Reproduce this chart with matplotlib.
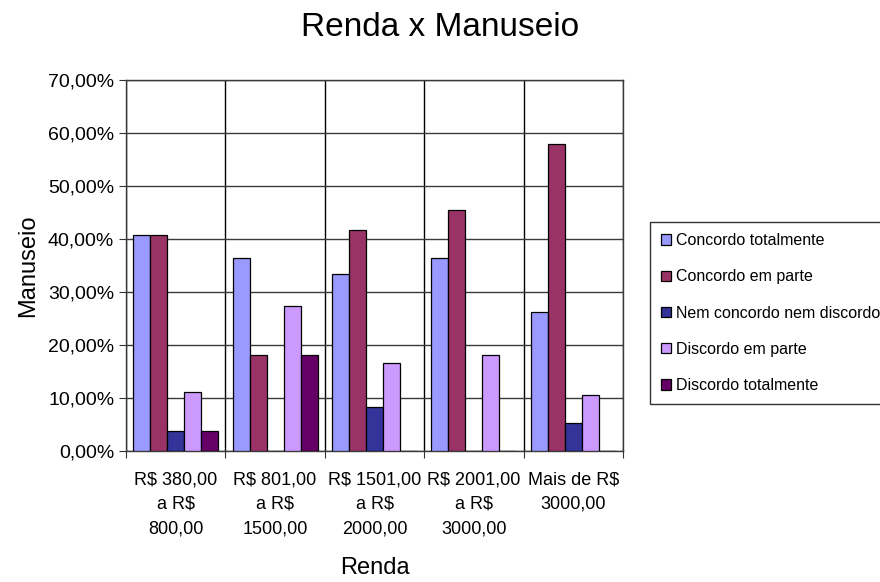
import matplotlib.pyplot as plt
import numpy as np
from matplotlib.ticker import FuncFormatter

plt.rcParams['font.family'] = ['Liberation Sans', 'DejaVu Sans']

# faixas de renda
categorias = ['R$ 380,00\na R$\n800,00', 'R$ 801,00\na R$\n1500,00',
              'R$ 1501,00\na R$\n2000,00', 'R$ 2001,00\na R$\n3000,00',
              'Mais de R$\n3000,00']

series = ['Concordo totalmente', 'Concordo em parte', 'Nem concordo nem discordo',
          'Discordo em parte', 'Discordo totalmente']

# valores (fracao)
concordo_total = [0.4074, 0.3636, 0.3333, 0.3636, 0.2632]
concordo_parte = [0.4074, 0.1818, 0.4167, 0.4545, 0.5789]
nem_nem = [0.0370, 0.0, 0.0833, 0.0, 0.0526]
discordo_parte = [0.1111, 0.2727, 0.1667, 0.1818, 0.1053]
discordo_total = [0.0370, 0.1818, 0.0, 0.0, 0.0]

cores = ['#9999FF', '#993366', '#333399', '#CC99FF', '#660066']

valores = [concordo_total, concordo_parte, nem_nem, discordo_parte, discordo_total]

fig = plt.figure(figsize=(8.8, 5.82), dpi=100)
ax = fig.add_axes([126/880, 1-451/582, (623-126)/880, (451-80)/582])

x = np.arange(len(categorias))
w = 0.171
for j, (v, c, nome) in enumerate(zip(valores, cores, series)):
    ax.bar(x + (j-2)*w, v, w, color=c, edgecolor='black', linewidth=0.9,
           label=nome, zorder=3)

ax.set_xlim(-0.5, len(categorias)-0.5)
ax.set_ylim(0, 0.7)
ax.set_yticks(np.arange(0, 0.71, 0.1))
ax.yaxis.set_major_formatter(FuncFormatter(lambda v, p: ('%.2f%%' % (v*100)).replace('.', ',')))

# marcas nas divisoes, rotulos no centro
ax.set_xticks(np.arange(-0.5, len(categorias)), minor=False)
ax.set_xticklabels([])
ax.set_xticks(x, minor=True)
ax.set_xticklabels(categorias, minor=True, fontsize=13, linespacing=1.55)
ax.tick_params(axis='x', which='minor', length=0, pad=15)
ax.tick_params(axis='x', which='major', length=5, direction='out', color='#333')
ax.tick_params(axis='y', length=5, direction='out', labelsize=14, color='#333')

ax.grid(axis='y', color='#3a3a3a', linewidth=1, zorder=0)
ax.grid(axis='x', which='major', color='black', linewidth=1, zorder=0)
ax.set_axisbelow(True)
for s in ax.spines.values():
    s.set_color('#3a3a3a')
    s.set_linewidth(1)

ax.set_xlabel('Renda', fontsize=17, labelpad=14)
ax.set_ylabel('Manuseio', fontsize=17, labelpad=6)
fig.text(440/880, 1-28/582, 'Renda x Manuseio', fontsize=24, ha='center', va='center')

leg = ax.legend(loc='upper left', bbox_to_anchor=(650/880, 1-222/582),
                bbox_transform=fig.transFigure, fontsize=11.5, frameon=True,
                fancybox=False, edgecolor='black', handlelength=0.6,
                handleheight=0.6, handletextpad=0.35, labelspacing=1.33,
                borderpad=0.7, borderaxespad=0)
leg.get_frame().set_linewidth(1)

fig.savefig('out.png', dpi=100)
